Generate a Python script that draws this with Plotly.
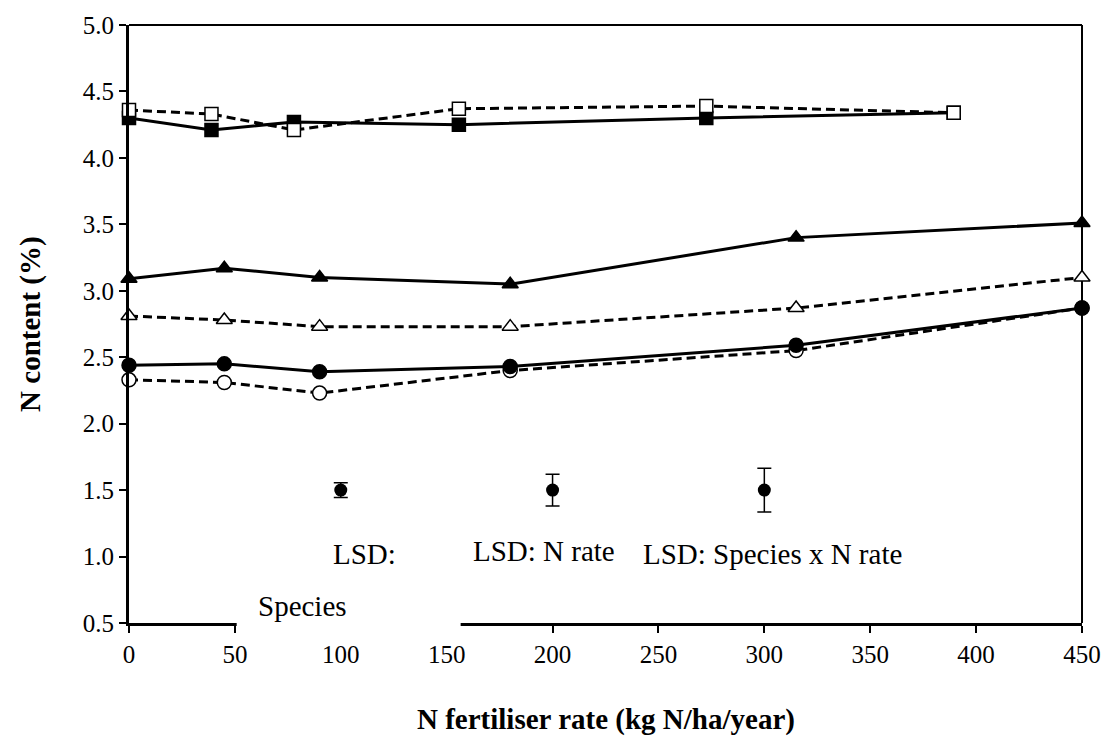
import plotly.graph_objects as go

# ---- data ----
n_rate = [0, 45, 90, 180, 315, 450]
filled_square = [4.30, 4.21, 4.27, 4.25, 4.30, 4.34]
open_square = [4.36, 4.33, 4.21, 4.37, 4.39, 4.34]
filled_triangle = [3.09, 3.17, 3.10, 3.05, 3.40, 3.51]
open_triangle = [2.81, 2.78, 2.73, 2.73, 2.87, 3.10]
filled_circle = [2.44, 2.45, 2.39, 2.43, 2.59, 2.87]
open_circle = [2.33, 2.31, 2.23, 2.40, 2.55, 2.87]

lsd_x = [100, 200, 300]
lsd_y = [1.5, 1.5, 1.5]
lsd_err = [0.055, 0.12, 0.165]
lsd_labels = ["LSD:", "LSD: N rate", "LSD: Species x N rate"]
lsd_label_x = [111, 196, 304]
lsd_label_y = [1.02, 1.04, 1.02]

x_ticks = [0, 50, 100, 150, 200, 250, 300, 350, 400, 450]
y_ticks = [0.5, 1.0, 1.5, 2.0, 2.5, 3.0, 3.5, 4.0, 4.5, 5.0]

FONT = "Liberation Serif"
DASH = "9px,5px"

fig = go.Figure()

SIZES = {"circle": 14, "square": 13, "triangle-up": 14}


def add_series(y, symbol, filled, dashed, xaxis="x"):
    fig.add_trace(go.Scatter(
        x=n_rate, y=y, mode="lines+markers", xaxis=xaxis, yaxis="y",
        line=dict(color="black", width=3, dash=DASH if dashed else "solid"),
        marker=dict(symbol=symbol, size=SIZES[symbol],
                    color="black" if filled else "white",
                    line=dict(color="black", width=1.5)),
        showlegend=False, cliponaxis=False,
    ))


# squares are on a secondary (hidden) x scale, as in the original chart
add_series(filled_square, "square", True, False, xaxis="x2")
add_series(open_square, "square", False, True, xaxis="x2")
add_series(filled_triangle, "triangle-up", True, False)
add_series(open_triangle, "triangle-up", False, True)
add_series(open_circle, "circle", False, True)
add_series(filled_circle, "circle", True, False)

fig.add_trace(go.Scatter(
    x=lsd_x, y=lsd_y, mode="markers",
    marker=dict(symbol="circle", size=13, color="black"),
    error_y=dict(type="data", array=lsd_err, symmetric=True,
                 color="black", thickness=1.5, width=7),
    showlegend=False,
))

for t, x, y in zip(lsd_labels, lsd_label_x, lsd_label_y):
    fig.add_annotation(x=x, y=y, xref="x", yref="y", text=t, showarrow=False,
                       font=dict(family=FONT, size=29, color="black"))

# white text box "Species" covering part of the x axis
fig.add_shape(type="rect", xref="paper", yref="paper",
              x0=0.113, x1=0.348, y0=-0.018, y1=0.06,
              fillcolor="white", line=dict(width=0), layer="above")
fig.add_annotation(x=82, y=0.63, xref="x", yref="y", text="Species",
                   showarrow=False, font=dict(family=FONT, size=29, color="black"))

# top and right frame lines
fig.add_shape(type="line", xref="paper", yref="paper", x0=0, x1=1, y0=1, y1=1,
              line=dict(color="black", width=2), layer="below")
fig.add_shape(type="line", xref="paper", yref="paper", x0=1, x1=1, y0=0, y1=1,
              line=dict(color="black", width=2), layer="below")

# axis titles
fig.add_annotation(x=-0.104, y=0.5, xref="paper", yref="paper",
                   xanchor="center", yanchor="middle",
                   text="<b>N content (%)</b>", textangle=-90, showarrow=False,
                   font=dict(family=FONT, size=29, color="black"))
fig.add_annotation(x=0.5, y=-0.161, xref="paper", yref="paper",
                   xanchor="center", yanchor="middle",
                   text="<b>N fertiliser rate (kg N/ha/year)</b>", showarrow=False,
                   font=dict(family=FONT, size=29, color="black"))

axis_common = dict(showgrid=False, zeroline=False, showline=True, linecolor="black",
                   linewidth=3, ticks="outside", ticklen=7, tickwidth=2,
                   tickcolor="black",
                   tickfont=dict(family=FONT, size=25, color="black"))

fig.update_layout(
    width=1113, height=738,
    margin=dict(l=129, r=28, t=20, b=115),
    paper_bgcolor="white", plot_bgcolor="white",
    xaxis=dict(range=[0, 450], tickvals=x_ticks, ticktext=[str(v) for v in x_ticks],
               **axis_common),
    xaxis2=dict(range=[0, 520], overlaying="x", anchor="y", visible=False),
    yaxis=dict(range=[0.5, 5.0], tickvals=y_ticks,
               ticktext=[f"{v:.1f}" for v in y_ticks], **axis_common),
    showlegend=False,
)

fig.write_html("out.html", config={"displayModeBar": False},
               post_script="document.body.style.margin='0px';")
